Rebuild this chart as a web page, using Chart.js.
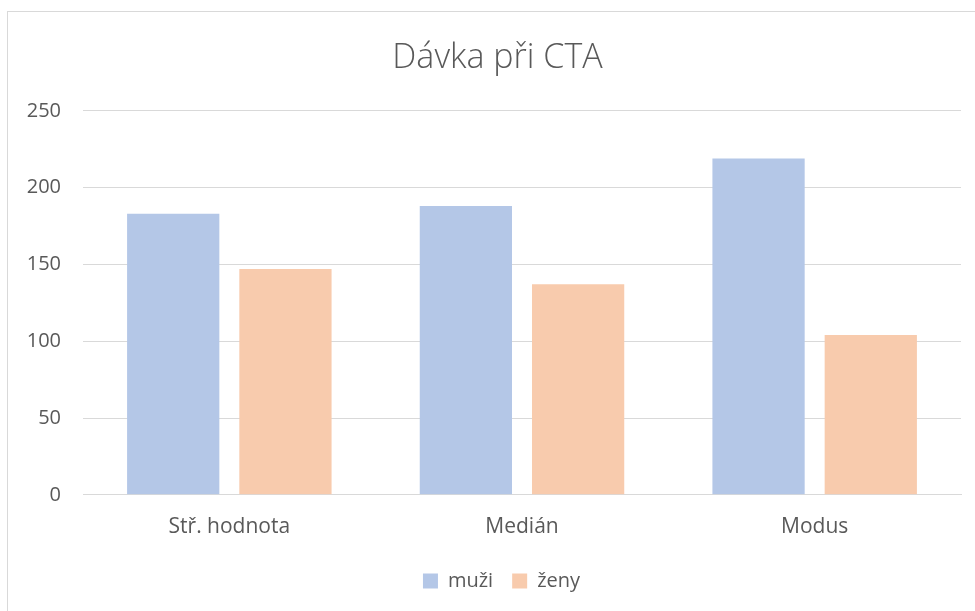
<!DOCTYPE html>
<html>
<head>
<meta charset="utf-8">
<script src="https://cdn.jsdelivr.net/npm/chart.js@4.4.1/dist/chart.umd.min.js"></script>
<style>
  html, body { margin: 0; padding: 0; background: #fff; overflow: hidden; }
  #frame { position: absolute; left: 7px; top: 11px; width: 1000px; height: 700px; border: 1px solid #d9d9d9; }
  #chart { position: absolute; left: 0; top: 0; }
</style>
</head>
<body>
<div id="frame"></div>
<canvas id="chart" width="975" height="611"></canvas>
<script>
// data
const kategorie = ['Stř. hodnota', 'Medián', 'Modus'];
const muzi = [183, 188, 219];
const zeny = [147, 137, 104];
const nazvy_serii = ['muži', 'ženy'];

const text_barva = '#595959';
const mrizka = '#d9d9d9';

// title and legend are centred a bit right of the canvas middle in the original
const posun = {
    id: 'posun',
    afterLayout(chart) {
        chart.titleBlock.left += 34;
        chart.legend.left += 42;
    }
};

const ctx = document.getElementById('chart').getContext('2d');

new Chart(ctx, {
    type: 'bar',
    data: {
        labels: kategorie,
        datasets: [
            { label: nazvy_serii[0], data: muzi, backgroundColor: '#b4c7e7' },
            { label: nazvy_serii[1], data: zeny, backgroundColor: '#f8cbad' }
        ]
    },
    options: {
        responsive: false,
        animation: false,
        categoryPercentage: 0.767,
        barPercentage: 0.822,
        layout: { padding: { left: 0, right: 14, top: 11, bottom: 10 } },
        plugins: {
            title: {
                display: true,
                text: 'Dávka při CTA',
                color: text_barva,
                font: { family: 'Open Sans', size: 34, weight: '300' },
                padding: { top: 27, bottom: 32 }
            },
            legend: {
                position: 'bottom',
                labels: {
                    color: text_barva,
                    font: { family: 'Open Sans', size: 20 },
                    boxWidth: 15,
                    boxHeight: 15,
                    padding: 19
                }
            },
            tooltip: { enabled: false }
        },
        scales: {
            x: {
                grid: { display: false },
                border: { display: true, color: mrizka },
                ticks: { color: text_barva, font: { family: 'Open Sans', size: 21 }, padding: 12 }
            },
            y: {
                min: 0,
                max: 250,
                ticks: { stepSize: 50, color: text_barva, font: { family: 'Open Sans', size: 20 }, padding: 22 },
                grid: { color: mrizka, drawTicks: false },
                border: { display: false },
                afterFit: function (scale) { scale.width = 83; }
            }
        }
    },
    plugins: [posun]
});
</script>
</body>
</html>
